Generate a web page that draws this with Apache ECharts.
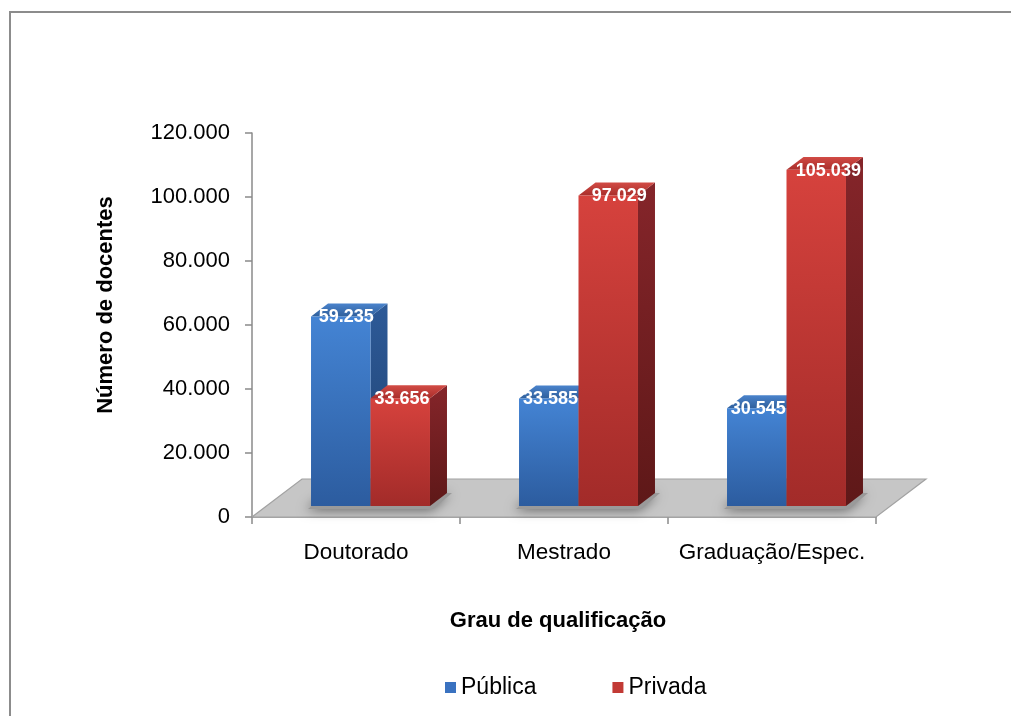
<!DOCTYPE html>
<html>
<head>
<meta charset="utf-8">
<script src="https://cdn.jsdelivr.net/npm/echarts@6/dist/echarts.min.js"></script>
<style>
  html, body { margin: 0; padding: 0; background: #ffffff; }
  #chart { width: 1011px; height: 716px; }
</style>
</head>
<body>
<div id="chart"></div>
<script>
// Docentes por grau de qualificação e categoria administrativa
const categories = ['Doutorado', 'Mestrado', 'Graduação/Espec.'];
const seriesNames = ['Pública', 'Privada'];
const publica = [59235, 33585, 30545];
const privada = [33656, 97029, 105039];
const yTicks = [0, 20000, 40000, 60000, 80000, 100000, 120000];
const yTickLabels = ['0', '20.000', '40.000', '60.000', '80.000', '100.000', '120.000'];

const FONT = '"Liberation Sans", Arial, Helvetica, sans-serif';

// Oblique projection of the floor depth (pixels) and where the bars sit in it
const FLOOR_DX = 50, FLOOR_DY = -38;
const BAR_FRONT = 0.29;   // fraction of floor depth in front of the bars
const BAR_DEPTH = 0.34;   // fraction of floor depth taken by a bar
const BAR_WIDTH = 0.286;  // fraction of the category band per bar

const palettes = [
  { // Pública
    front: ['#4484d4', '#2c5c9f'],
    side: ['#2d5a98', '#1f416f'],
    top: ['#4a83cc', '#30609c'],
    legend: '#3a72c0'
  },
  { // Privada
    front: ['#d6423d', '#a22b29'],
    side: ['#85252a', '#5e1818'],
    top: ['#d24b45', '#a92e2b'],
    legend: '#c23a35'
  }
];

function formatPt(v) {
  return String(v).replace(/\B(?=(\d{3})+(?!\d))/g, '.');
}

function grad(c) {
  return new echarts.graphic.LinearGradient(0, 0, 0, 1, [
    { offset: 0, color: c[0] }, { offset: 1, color: c[1] }
  ]);
}

function barItem(seriesIdx) {
  return function (params, api) {
    const cat = api.value(0);
    const val = api.value(1);
    const base = api.coord([cat, 0]);
    const top = api.coord([cat, val]);
    const band = api.size([1, 0])[0];
    const w = band * BAR_WIDTH;
    const fx = BAR_FRONT * FLOOR_DX, fy = BAR_FRONT * FLOOR_DY;
    const dx = BAR_DEPTH * FLOOR_DX, dy = BAR_DEPTH * FLOOR_DY;
    const x0 = base[0] + fx - (seriesIdx === 0 ? w : 0);
    const x1 = x0 + w;
    const yb = base[1] + fy;
    const yt = top[1] + fy;
    const p = palettes[seriesIdx];
    const children = [];
    if (seriesIdx === 0) {
      // soft shadow of the bar pair on the floor
      children.push({
        type: 'polygon',
        shape: { points: [[x0 - 3, yb + 3], [x0 + 2 * w + 3, yb + 3], [x0 + 2 * w + dx + 5, yb + dy], [x0 + dx, yb + dy]] },
        style: { fill: '#9a9a9a', shadowBlur: 12, shadowColor: 'rgba(0,0,0,0.5)', shadowOffsetX: -2, shadowOffsetY: 1 },
        silent: true
      });
    }
    children.push({
      type: 'polygon',
      shape: { points: [[x1, yt], [x1 + dx, yt + dy], [x1 + dx, yb + dy], [x1, yb]] },
      style: { fill: grad(p.side) }
    });
    children.push({
      type: 'polygon',
      shape: { points: [[x0, yt], [x1, yt], [x1 + dx, yt + dy], [x0 + dx, yt + dy]] },
      style: { fill: grad(p.top) }
    });
    children.push({
      type: 'rect',
      shape: { x: x0, y: yt, width: w, height: yb - yt },
      style: { fill: grad(p.front) }
    });
    const h = yb - yt;
    children.push({
      type: 'text',
      style: {
        text: formatPt(val),
        x: (x0 + x1) / 2 + 0.045 * h - 3,
        y: yt + 1,
        fill: '#ffffff',
        font: 'bold 18px ' + FONT,
        align: 'center',
        verticalAlign: 'middle'
      }
    });
    return { type: 'group', children: children };
  };
}

function floorItem(params, api) {
  const cs = params.coordSys;
  const yb = cs.y + cs.height;
  const xl = cs.x, xr = cs.x + cs.width;
  return {
    type: 'polygon',
    shape: { points: [[xl, yb], [xr, yb], [xr + FLOOR_DX, yb + FLOOR_DY], [xl + FLOOR_DX, yb + FLOOR_DY]] },
    style: { fill: '#c6c6c6', stroke: '#a2a2a2', lineWidth: 1.2 },
    silent: true
  };
}

const chart = echarts.init(document.getElementById('chart'), null, { renderer: 'canvas' });

chart.setOption({
  backgroundColor: '#ffffff',
  animation: false,
  textStyle: { fontFamily: FONT },
  grid: { left: 252, right: 135, top: 133, bottom: 199, containLabel: false },
  xAxis: {
    type: 'category',
    data: categories,
    boundaryGap: true,
    axisLine: { show: true, lineStyle: { color: '#8a8a8a', width: 1.5 } },
    axisTick: { show: true, length: 7, lineStyle: { color: '#8a8a8a', width: 1.5 } },
    axisLabel: { interval: 0, fontSize: 22.5, color: '#000000', margin: 24, fontFamily: FONT },
    splitLine: { show: false }
  },
  yAxis: {
    type: 'value',
    min: 0,
    max: 120000,
    interval: 20000,
    axisLine: { show: true, lineStyle: { color: '#8a8a8a', width: 1.5 } },
    axisTick: { show: true, length: 7, lineStyle: { color: '#8a8a8a', width: 1.5 } },
    axisLabel: {
      fontSize: 22, color: '#000000', margin: 22, fontFamily: FONT,
      formatter: function (v) {
        const i = yTicks.indexOf(v);
        return i >= 0 ? yTickLabels[i] : '';
      }
    },
    splitLine: { show: false }
  },
  legend: {
    data: seriesNames,
    left: 445,
    top: 676,
    padding: 0,
    icon: 'rect',
    itemWidth: 11,
    itemHeight: 11,
    itemGap: 76,
    textStyle: { fontSize: 23, color: '#000000', fontFamily: FONT }
  },
  graphic: [
    {
      type: 'polyline',
      shape: { points: [[10, 760], [10, 12], [1060, 12]] },
      style: { fill: 'none', stroke: '#8c8c8c', lineWidth: 2 },
      silent: true, z: 0
    },
    {
      type: 'text',
      x: 106, y: 305,
      rotation: Math.PI / 2,
      style: {
        text: 'Número de docentes',
        font: 'bold 22px ' + FONT,
        fill: '#000000',
        align: 'center',
        verticalAlign: 'middle'
      }
    },
    {
      type: 'text',
      x: 558, y: 621,
      style: {
        text: 'Grau de qualificação',
        font: 'bold 22px ' + FONT,
        fill: '#000000',
        align: 'center',
        verticalAlign: 'middle'
      }
    }
  ],
  series: [
    {
      type: 'custom',
      name: 'floor',
      renderItem: floorItem,
      data: [[0, 0]],
      clip: false,
      silent: true,
      z: 1
    },
    {
      type: 'custom',
      name: seriesNames[0],
      itemStyle: { color: palettes[0].legend },
      renderItem: barItem(0),
      data: publica.map(function (v, i) { return [i, v]; }),
      encode: { x: 0, y: 1 },
      clip: false,
      z: 2
    },
    {
      type: 'custom',
      name: seriesNames[1],
      itemStyle: { color: palettes[1].legend },
      renderItem: barItem(1),
      data: privada.map(function (v, i) { return [i, v]; }),
      encode: { x: 0, y: 1 },
      clip: false,
      z: 3
    }
  ]
});
</script>
</body>
</html>
